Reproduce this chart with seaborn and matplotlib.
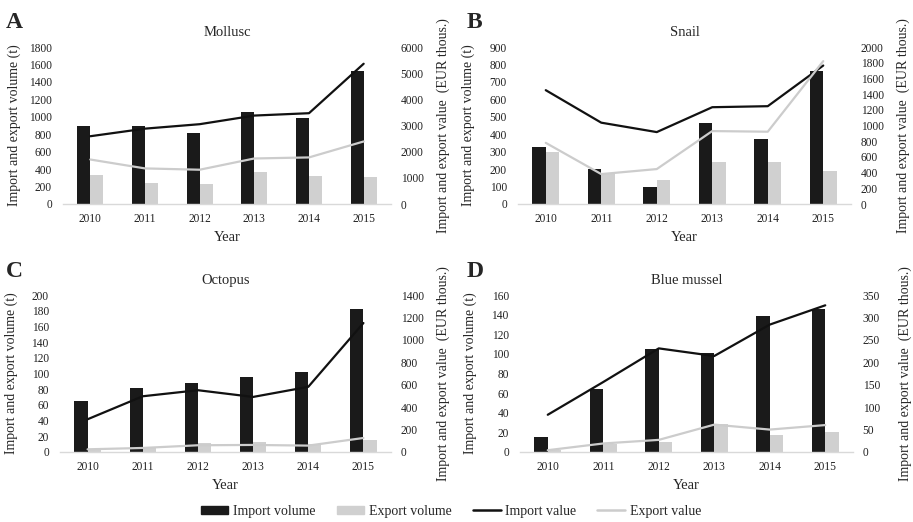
import numpy as np
import pandas as pd
import seaborn as sns
import matplotlib.pyplot as plt
from matplotlib.patches import Patch
from matplotlib.lines import Line2D

sns.set_style('white')
plt.rcParams['font.family'] = ['Liberation Serif', 'DejaVu Serif']

years = [2010, 2011, 2012, 2013, 2014, 2015]

# Mollusc
mollusc_imp_vol = [900, 895, 810, 1060, 990, 1530]
mollusc_exp_vol = [335, 240, 225, 365, 325, 310]
mollusc_imp_val = [2590, 2880, 3050, 3380, 3470, 5360]
mollusc_exp_val = [1700, 1360, 1310, 1740, 1780, 2390]

# Snail
snail_imp_vol = [326, 202, 100, 462, 372, 763]
snail_exp_vol = [297, 177, 139, 239, 239, 191]
snail_imp_val = [1450, 1036, 916, 1233, 1246, 1764]
snail_exp_val = [779, 381, 445, 929, 921, 1820]

# Octopus
octopus_imp_vol = [64.7, 81.7, 88.5, 95.7, 101.3, 182]
octopus_exp_vol = [3.8, 5.5, 11.5, 13.2, 9.8, 15.7]
octopus_imp_val = [292, 497, 551, 491, 581, 1150]
octopus_exp_val = [24, 36, 60, 63, 57, 125]

# Blue mussel
mussel_imp_vol = [14.8, 64.2, 104.7, 100.9, 138.4, 146.2]
mussel_exp_vol = [1.7, 7.9, 10.3, 28.8, 17.5, 19.9]
mussel_imp_val = [83, 156, 231, 214, 284, 327]
mussel_exp_val = [4, 19, 27, 61, 50, 60]

IMP_BAR = '#1a1a1a'
EXP_BAR = '#d0d0d0'
IMP_LINE = '#111111'
EXP_LINE = '#cccccc'
W, H = 913, 522

fig = plt.figure(figsize=(W / 100, H / 100), dpi=100)


def panel(rect, letter, title, iv, ev, ival, evl, vtop, vstep, rtop, rstep, letter_xy):
    ax = fig.add_axes(rect)
    vol = pd.DataFrame({'Year': years * 2, 'volume': iv + ev,
                        'kind': ['Import volume'] * 6 + ['Export volume'] * 6})
    sns.barplot(data=vol, x='Year', y='volume', hue='kind', palette=[IMP_BAR, EXP_BAR],
                native_scale=True, width=0.48, saturation=1, linewidth=0,
                legend=False, ax=ax)
    ax2 = ax.twinx()
    val = pd.DataFrame({'Year': years * 2, 'value': ival + evl,
                        'kind': ['Import value'] * 6 + ['Export value'] * 6})
    sns.lineplot(data=val, x='Year', y='value', hue='kind', palette=[IMP_LINE, EXP_LINE],
                 linewidth=1.6, legend=False, ax=ax2)
    ax.set_xlim(2009.5, 2015.5)
    ax.set_xticks(years)
    ax.set_xticklabels([str(y) for y in years])
    ax.set_ylim(0, vtop)
    ax.set_yticks(np.arange(0, vtop + vstep / 2, vstep))
    ax2.set_ylim(0, rtop)
    ax2.set_yticks(np.arange(0, rtop + rstep / 2, rstep))
    for a in (ax, ax2):
        for s in a.spines.values():
            s.set_visible(False)
        a.tick_params(length=0, labelsize=8.3, colors='#222222')
        a.grid(False)
    ax.spines['bottom'].set_visible(True)
    ax.spines['bottom'].set_color('#d9d9d9')
    ax.spines['bottom'].set_linewidth(1)
    ax.tick_params(axis='y', pad=8)
    ax.tick_params(axis='x', pad=6.5)
    ax2.tick_params(axis='y', pad=7)
    ax.set_xlabel('Year', fontsize=10.5, labelpad=4)
    ax.set_ylabel('Import and export volume (t)', fontsize=10)
    ax.yaxis.set_label_coords(-0.128, 0.5)
    ax2.set_ylabel('Import and export value  (EUR thous.)', fontsize=10)
    ax2.yaxis.set_label_coords(1.138, 0.5)
    ax.set_title(title, fontsize=10.5, pad=8)
    fig.text(letter_xy[0] / W, 1 - letter_xy[1] / H, letter, fontsize=17,
             fontweight='bold', ha='left', va='baseline')


top_b, top_h = 1 - 204 / H, 157 / H
bot_b, bot_h = 1 - 452 / H, 157 / H
panel([63 / W, top_b, 328 / W, top_h], 'A', 'Mollusc', mollusc_imp_vol, mollusc_exp_vol,
      mollusc_imp_val, mollusc_exp_val, 1800, 200, 6000, 1000, (6, 28))
panel([518 / W, top_b, 333 / W, top_h], 'B', 'Snail', snail_imp_vol, snail_exp_vol,
      snail_imp_val, snail_exp_val, 900, 100, 2000, 200, (467, 28))
panel([60 / W, bot_b, 331 / W, bot_h], 'C', 'Octopus', octopus_imp_vol, octopus_exp_vol,
      octopus_imp_val, octopus_exp_val, 200, 20, 1400, 200, (6, 277))
panel([520 / W, bot_b, 333 / W, bot_h], 'D', 'Blue mussel', mussel_imp_vol, mussel_exp_vol,
      mussel_imp_val, mussel_exp_val, 160, 20, 350, 50, (467, 277))

handles = [Patch(color=IMP_BAR), Patch(color=EXP_BAR),
           Line2D([], [], color=IMP_LINE, lw=1.8), Line2D([], [], color=EXP_LINE, lw=1.8)]
labels = ['Import volume', 'Export volume', 'Import value', 'Export value']
fig.legend(handles, labels, loc='center', bbox_to_anchor=(451 / W, 1 - 511 / H), ncol=4,
           frameon=False, fontsize=10, handlelength=2.0, handleheight=0.5,
           columnspacing=1.5, handletextpad=0.35)

fig.savefig('out.png', dpi=100)
